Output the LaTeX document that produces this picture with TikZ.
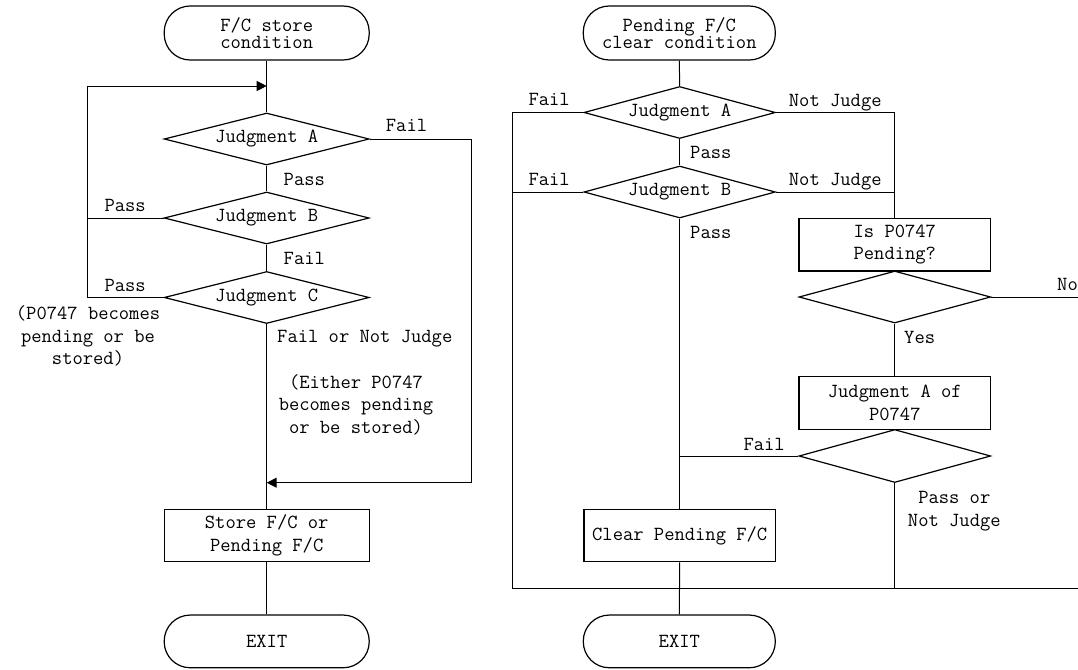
\documentclass[tikz,border=0pt]{standalone}
\usepackage{fontspec}
\usetikzlibrary{shapes.geometric,arrows.meta}
\tikzset{
  every node/.style={font=\ttfamily\fontsize{20}{22.6}\selectfont, inner sep=0pt},
  term/.style={draw, line width=1.2pt, rectangle, rounded corners=26pt, minimum height=54pt, align=center},
  termtxt/.style={font=\ttfamily\fontsize{20}{17.4}\selectfont},
  dec/.style={draw, line width=1.2pt, diamond, aspect=3.9, minimum height=52pt},
  proc/.style={draw, line width=1.2pt, rectangle, minimum height=52.5pt, align=center},
  conn/.style={line width=1pt},
  arr/.style={line width=1pt, -{Triangle[length=10pt,width=10pt]}},
  lbl/.style={anchor=base west},
}
\begin{document}
\begin{tikzpicture}[x=1pt,y=-1pt]
\useasboundingbox (0,0) rectangle (1078,669);
% ---------------- left chart ----------------
\node[term, minimum width=205pt, termtxt] (ls) at (266.7,33) {F/C store\\condition};
\node[dec, minimum width=205pt] (lA) at (266.7,139) {Judgment A};
\node[dec, minimum width=205pt] (lB) at (266.7,218) {Judgment B};
\node[dec, minimum width=205pt] (lC) at (266.7,297.5) {Judgment C};
\node[proc, minimum width=205pt] (lstore) at (266.7,535.5) {Store F/C or\\Pending F/C};
\node[term, minimum width=205pt, minimum height=52.7pt] (lexit) at (266.7,641.4) {EXIT};
\coordinate (lloop) at (87,86);
\coordinate (ltop) at (266.7,86);
\coordinate (lfr) at (471.7,482.7);

\draw[conn] (ls.south) -- (lA.north);
\draw[conn] (lA.south) -- (lB.north);
\draw[conn] (lB.south) -- (lC.north);
\draw[conn] (lC.south) -- (lstore.north);
\draw[conn] (lstore.south) -- (lexit.north);
\draw[arr] (lC.west) -| (lloop) -- (ltop);
\draw[conn] (lB.west) -- (lB.west -| lloop);
\draw[arr] (lA.east) -| (lfr) -- (lfr -| lA.center);

\node[lbl] (tl1) at (385.7,131.7) {Fail};
\node[lbl] (tl2) at (283.5,185) {Pass};
\node[lbl] (tl3) at (104.3,211.7) {Pass};
\node[lbl] (tl4) at (283.5,264.3) {Fail};
\node[lbl] (tl5) at (104.3,291) {Pass};
\node[align=center] (tl6) at (88,336) {(P0747 becomes\\pending or be\\stored)};
\node[lbl] (tl7) at (277,342.7) {Fail or Not Judge};
\node[align=center] (tl8) at (356,404.5) {(Either P0747\\becomes pending\\or be stored)};

% ---------------- right chart ----------------
\node[term, minimum width=192pt, termtxt] (rs) at (679.3,33) {Pending F/C\\clear condition};
\node[dec, minimum width=191.5pt] (rA) at (679.7,112.5) {Judgment A};
\node[dec, minimum width=191.5pt] (rB) at (679.7,192) {Judgment B};
\node[proc, minimum width=191.7pt] (ris) at (894.8,244.7) {Is P0747\\Pending?};
\node[dec, minimum width=191.7pt] (rD) at (894.8,297) {};
\node[proc, minimum width=191.7pt] (rJ) at (894.8,403) {Judgment A of\\P0747};
\node[dec, minimum width=191.7pt, minimum height=53pt] (rE) at (894.8,456) {};
\node[proc, minimum width=191.5pt] (rclear) at (679.7,535.5) {Clear Pending F/C};
\node[term, minimum width=192pt, minimum height=52.7pt] (rexit) at (679.3,641.4) {EXIT};
\coordinate (rleft) at (512.3,588.3);
\coordinate (rright) at (1078,588.3);

\draw[conn] (rs.south) -- (rA.north);
\draw[conn] (rA.south) -- (rB.north);
\draw[conn] (rB.south) -- (rclear.north);
\draw[conn] (rclear.south) -- (rexit.north);
\draw[conn] (rA.west) -| (rleft) -- (rright);
\draw[conn] (rB.west) -- (rB.west -| rleft);
\draw[conn] (rA.east) -| (ris.north);
\draw[conn] (rB.east) -- (rB.east -| ris.north);
\draw[conn] (ris.south) -- (rD.north);
\draw[conn] (rD.south) -- (rJ.north);
\draw[conn] (rJ.south) -- (rE.north);
\draw[conn] (rD.east) -- (rD.east -| rright);
\draw[conn] (rE.west) -- (rE.west -| rclear.north);
\draw[conn] (rE.south) -- (rE.south |- rleft);

\node[lbl] (tr1) at (528.3,105) {Fail};
\node[lbl] (tr2) at (788.7,106) {Not Judge};
\node[lbl] (tr3) at (690,158.3) {Pass};
\node[lbl] (tr4) at (528.3,185) {Fail};
\node[lbl] (tr5) at (788.7,185) {Not Judge};
\node[lbl] (tr6) at (690,238.5) {Pass};
\node[lbl] (tr7) at (1057,290) {No};
\node[lbl] (tr8) at (904,343.3) {Yes};
\node[lbl] (tr9) at (743.3,450) {Fail};
\node[align=center] (tr10) at (954.3,511) {Pass or\\Not Judge};
\end{tikzpicture}
\end{document}
